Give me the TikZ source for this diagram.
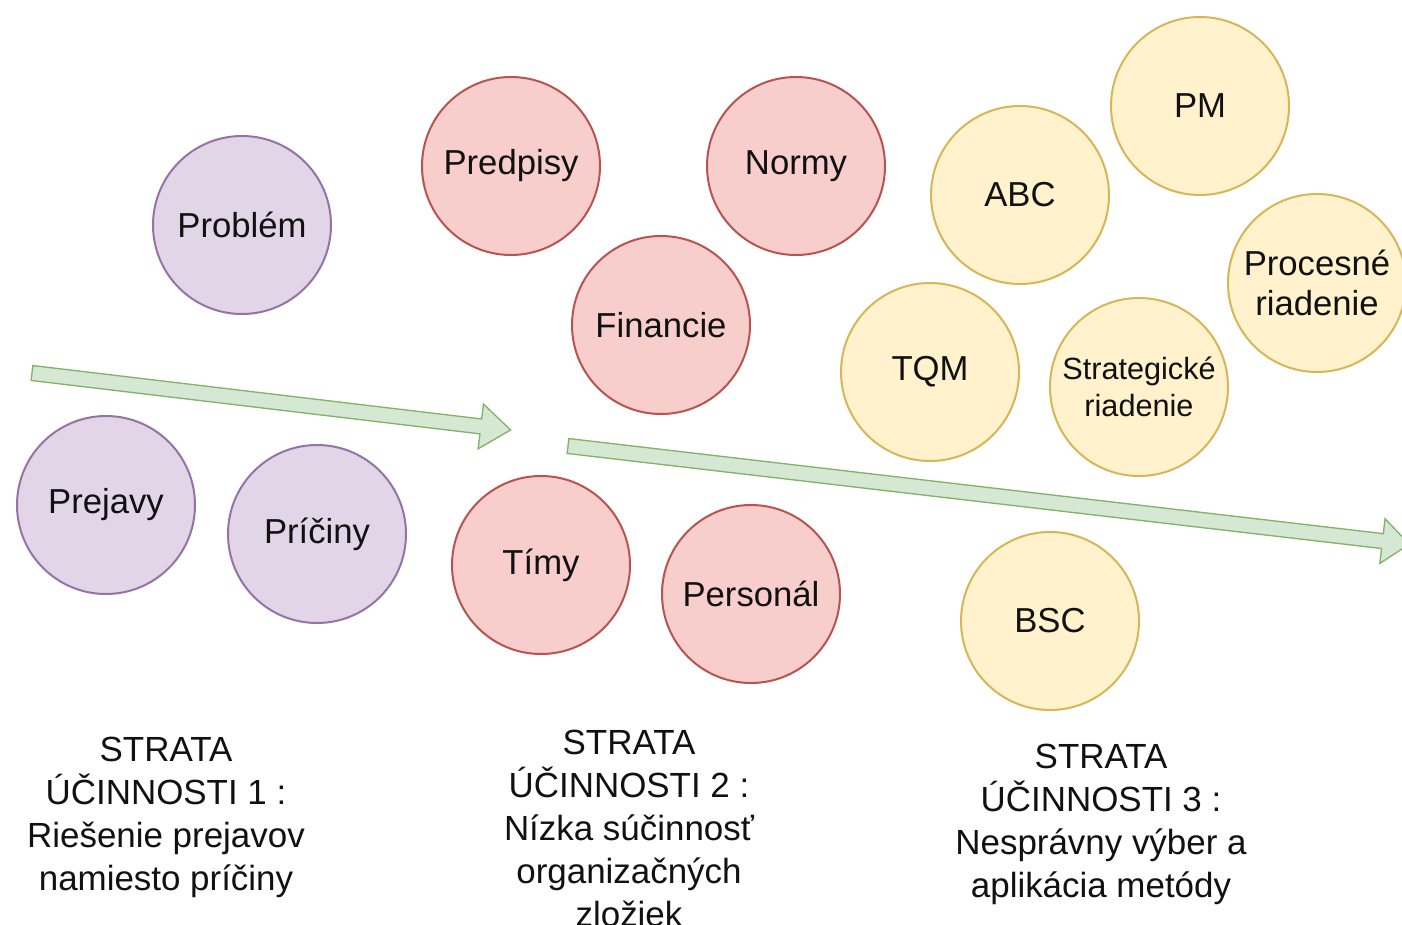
\documentclass[tikz,border=0pt]{standalone}
\usepackage{fontspec}
\setmainfont{Liberation Sans}
\usetikzlibrary{calc}
\definecolor{pfill}{HTML}{E1D5E7}\definecolor{pline}{HTML}{9673A6}
\definecolor{rfill}{HTML}{F8CECC}\definecolor{rline}{HTML}{B85450}
\definecolor{yfill}{HTML}{FFF2CC}\definecolor{yline}{HTML}{D6B656}
\definecolor{gfill}{HTML}{D5E8D4}\definecolor{gline}{HTML}{82B366}
\definecolor{txt}{HTML}{111111}
\tikzset{
  bubble/.style={circle, line width=1.5pt, minimum size=133.5pt, inner sep=0pt, align=center, text=txt,
    font=\fontsize{26}{30}\selectfont},
  purp/.style={bubble, fill=pfill, draw=pline},
  redb/.style={bubble, fill=rfill, draw=rline},
  yelb/.style={bubble, fill=yfill, draw=yline},
  small/.style={font=\fontsize{23}{27.75}\selectfont},
  fatarrow/.style={fill=gfill, draw=gline, line width=1pt, line join=miter},
  caption/.style={align=center, text=txt, font=\fontsize{26.2}{32.25}\selectfont, inner sep=0pt}
}
\begin{document}
\begin{tikzpicture}[x=0.75pt, y=-0.75pt]
\useasboundingbox (0,0) rectangle (1402,924);
\fill[white] (0,0) rectangle (1402,924);
\begin{scope}
\clip (0,0) rectangle (1402,924);
% arrows
\begin{scope}[shift={(32,373)}, rotate=-6.79]
  \draw[fatarrow] (0,-7.5) -- (452,-7.5) -- (452,-22.5) -- (482,0) -- (452,22.5) -- (452,7.5) -- (0,7.5) -- cycle;
\end{scope}
\begin{scope}[shift={(568,446)}, rotate=-6.66]
  \draw[fatarrow] (0,-7.5) -- (820,-7.5) -- (820,-22.5) -- (847,0) -- (820,22.5) -- (820,7.5) -- (0,7.5) -- cycle;
\end{scope}
% purple
\node[purp] (problem) at (242,225) {Problém};
\node[purp] (prejavy) at (106,505) {Prejavy};
\node[purp] (priciny) at (317,534) {Príčiny};
% red
\node[redb] (predpisy) at (511,166) {Predpisy};
\node[redb] (normy) at (796,166) {Normy};
\node[redb] (financie) at (661,325) {Financie};
\node[redb] (timy) at (541,565) {Tímy};
\node[redb] (personal) at (751,594) {Personál};
% yellow
\node[yelb] (abc) at (1020,195) {ABC};
\node[yelb] (pm) at (1200,106) {PM};
\node[yelb] (procesne) at (1317,283) {Procesné\\riadenie};
\node[yelb] (tqm) at (930,372) {TQM};
\node[yelb, small] (strat) at (1139,387) {Strategické\\riadenie};
\node[yelb] (bsc) at (1050,621) {BSC};
% captions
\node[caption] (cap1) at (166,817) {STRATA\\ÚČINNOSTI 1 :\\Riešenie prejavov\\namiesto príčiny};
\node[caption] (cap2) at (629,828) {STRATA\\ÚČINNOSTI 2 :\\Nízka súčinnosť\\organizačných\\zložiek};
\node[caption] (cap3) at (1101,824) {STRATA\\ÚČINNOSTI 3 :\\Nesprávny výber a\\aplikácia metódy};
\end{scope}
\end{tikzpicture}
\end{document}
